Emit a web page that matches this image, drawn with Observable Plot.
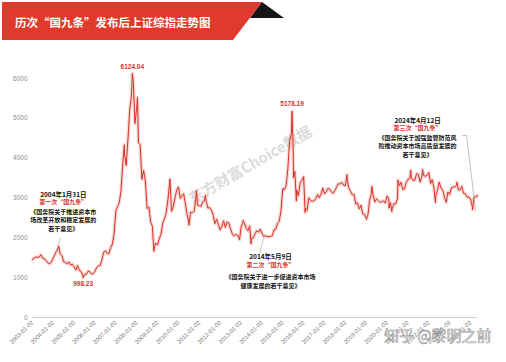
<!DOCTYPE html>
<html><head><meta charset="utf-8">
<script src="https://cdn.jsdelivr.net/npm/d3@7"></script>
<script src="https://cdn.jsdelivr.net/npm/@observablehq/plot@0.6"></script>
<style>
body{margin:0;background:#fff;}
#wrap{position:relative;width:506px;height:362px;overflow:hidden;font-family:"Noto Sans CJK SC","Noto Sans",sans-serif;background:#fff;}
#chart{position:absolute;left:0;top:0;}
#banner{position:absolute;left:2px;top:2px;width:260px;height:38px;background:#e13a2c;clip-path:polygon(0 0,260px 0,231px 38px,0 38px);z-index:2;}
#fold{position:absolute;left:250px;top:2px;width:34px;height:16px;background:#151515;clip-path:polygon(12px 0,34px 16px,0 16px);z-index:2;}
#title{position:absolute;left:15px;top:14px;color:#fff;font-weight:bold;font-size:11.5px;line-height:16px;z-index:3;white-space:nowrap;}
#zhihu{position:absolute;left:384px;top:324px;font-size:15px;color:rgba(255,255,255,0.55);-webkit-text-stroke:0.6px rgba(120,120,120,0.8);z-index:3;white-space:nowrap;}
</style></head>
<body><div id="wrap">
<div id="chart"></div>
<div id="banner"></div><div id="fold"></div>
<div id="title"></div>
<div id="zhihu"></div>
</div>
<script>
const titleText = "历次“国九条”发布后上证综指走势图";
const zhihuText = "知乎 @黎明之前";
const watermarkText = "东方财富Choice数据";

// Month-end closes of the SSE Composite
const years = [2003,2004,2005,2006,2007,2008,2009,2010,2011,2012,2013,2014,2015,2016,2017,2018,2019,2020,2021,2022,2023,2024];
const c2003 = [1500,1512,1510,1521,1576,1487,1476,1421,1367,1348,1397,1497];
const c2004 = [1590,1675,1742,1595,1555,1399,1386,1342,1396,1320,1340,1267];
const c2005 = [1191,1306,1181,1159,1060,1080,1083,1162,1155,1092,1099,1161];
const c2006 = [1258,1299,1298,1440,1641,1672,1612,1601,1752,1837,2099,2675];
const c2007 = [2786,2881,3183,3841,4109,3820,4471,5218,5552,5954,4871,5261];
const c2008 = [4383,4348,3472,3693,3433,2736,2775,2397,2293,1729,1871,1821];
const c2009 = [1990,2082,2373,2477,2632,2959,3412,2667,2779,2995,3195,3277];
const c2010 = [2989,3051,3109,2870,2592,2398,2637,2638,2655,2979,2820,2808];
const c2011 = [2790,2905,2928,2911,2743,2762,2701,2568,2359,2468,2333,2199];
const c2012 = [2292,2428,2262,2396,2373,2225,2103,2047,2086,2069,1980,2269];
const c2013 = [2385,2365,2237,2177,2300,1979,1993,2098,2174,2141,2220,2116];
const c2014 = [2033,2056,2033,2026,2039,2048,2201,2217,2364,2420,2683,3235];
const c2015 = [3210,3310,3748,4442,4612,4277,3664,3206,3053,3383,3445,3539];
const c2016 = [2738,2688,3004,2938,2917,2930,2979,3085,3005,3100,3250,3104];
const c2017 = [3159,3242,3223,3155,3117,3192,3273,3361,3349,3393,3317,3307];
const c2018 = [3481,3259,3169,3082,3095,2847,2876,2725,2821,2603,2588,2494];
const c2019 = [2585,2941,3091,3078,2899,2979,2932,2886,2905,2929,2872,3050];
const c2020 = [2977,2880,2750,2860,2852,2985,3310,3396,3218,3225,3392,3473];
const c2021 = [3483,3509,3441,3447,3615,3591,3397,3544,3568,3547,3564,3640];
const c2022 = [3361,3462,3252,3047,3186,3399,3253,3202,3024,2893,3151,3089];
const c2023 = [3255,3280,3273,3323,3205,3202,3291,3120,3110,3018,3030,2975];
const c2024 = [2789,3015,3041,3065];
const yearCloses = [c2003,c2004,c2005,c2006,c2007,c2008,c2009,c2010,c2011,c2012,c2013,c2014,c2015,c2016,c2017,c2018,c2019,c2020,c2021,c2022,c2023,c2024];

// intra-month highs and lows
const extremeDates = ["2003-01-02","2004-04-07","2005-06-06","2007-05-29","2007-10-16","2008-01-14","2008-10-28","2009-08-04","2010-07-02","2010-11-11","2011-04-18","2012-12-04","2013-02-06","2013-06-25","2015-06-12","2015-07-08","2015-08-26","2016-01-27","2018-01-29","2019-01-03","2019-04-08","2020-02-03","2020-03-23","2020-07-09","2021-02-18","2021-09-13","2022-04-26","2023-05-09","2024-02-05","2024-04-12"];
const extremeValues = [1450,1783,998.23,4335,6124.04,5522,1664,3478,2319,3186,3067,1949,2434,1849,5178.19,3507,2927,2638,3587,2464,3288,2746,2660,3450,3696,3715,2886,3395,2702,3019];

const peakLabels = ["998.23","6124.04","5178.19"];
const peakDates = ["2005-06-06","2007-10-16","2015-06-12"];
const peakValues = [998.23,6124.04,5178.19];

const yTicks = [0,1000,2000,3000,4000,5000,6000];
const xTickYears = [2003,2004,2005,2006,2007,2008,2009,2010,2011,2012,2013,2014,2015,2016,2017,2018,2019,2020,2021,2022,2023,2024];

const annHeads = ["2004年1月31日","2014年5月9日","2024年4月12日"];
const annOrders = ["第一次“国九条”","第二次“国九条”","第三次“国九条”"];
const annBodies = [
  ["《国务院关于推进资本市","场改革开放和稳定发展的","若干意见》"],
  ["《国务院关于进一步促进资本市场","健康发展的若干意见》"],
  ["《国务院关于加强监管防范风","险推动资本市场高质量发展的","若干意见》"]
];

document.getElementById("title").textContent = titleText;
document.getElementById("zhihu").textContent = zhihuText;

const series = [];
yearCloses.forEach((arr, i) => arr.forEach((v, m) => series.push({date: new Date(Date.UTC(years[i], m + 1, 0)), value: v})));
extremeDates.forEach((d, i) => series.push({date: new Date(d), value: extremeValues[i]}));
series.sort((a, b) => a.date - b.date);

const peaks = peakDates.map((d, i) => ({date: new Date(d), value: peakValues[i], label: peakLabels[i]}));
const xTicks = xTickYears.map(y => new Date(Date.UTC(y, 0, 2)));

const D = s => new Date(s);
const font = "'Noto Sans CJK SC', sans-serif";
const black = "#111";
const red = "#d8322a";

// annotation anchors (data coordinates)
const ann = [
  {d: D("2004-06-25"), v: 3088, i: 0, od: 8, body: 14, lh: 1.36},
  {d: D("2014-05-30"), v: 1531, i: 1, od: 9, body: 16, lh: 1.5},
  {d: D("2021-06-17"), v: 4946, i: 2, od: 8, body: 14, lh: 1.36}
];

const annMarks = ann.flatMap(a => [
  Plot.text([a], {x: "d", y: "v", text: () => annHeads[a.i], fontSize: 6.5, fontWeight: "bold", fill: black, fontFamily: font}),
  Plot.text([a], {x: "d", y: "v", text: () => annOrders[a.i], dy: a.od, fontSize: 6, fontWeight: "bold", fill: red, fontFamily: font}),
  Plot.text([a], {x: "d", y: "v", text: () => annBodies[a.i].join("\n"), dy: a.body, lineAnchor: "top", lineHeight: a.lh, fontSize: 6, fontWeight: "bold", fill: black, fontFamily: font})
]);

const leaders = [
  {x1: D("2004-05-10"), y1: 2000, x2: D("2004-02-25"), y2: 1700},
  {x1: D("2014-01-28"), y1: 1983, x2: D("2013-11-19"), y2: 1607}
];
const leader3 = [
  {d: D("2023-08-12"), v: 4569},
  {d: D("2023-10-23"), v: 4569},
  {d: D("2024-03-28"), v: 2686}
];

const chart = Plot.plot({
  width: 506, height: 362,
  marginLeft: 32, marginRight: 29, marginTop: 78, marginBottom: 45,
  style: {background: "transparent", overflow: "visible", fontFamily: "'Liberation Sans', Arial, sans-serif"},
  x: {type: "utc", domain: [D("2003-01-02"), D("2024-05-01")], label: null},
  y: {domain: [0, 6000], label: null},
  marks: [
    Plot.ruleY([0], {stroke: "#cfcfcf", strokeWidth: 1}),
    Plot.axisY({ticks: yTicks, tickFormat: d => String(d), tickSize: 0, tickPadding: 5, fontSize: 6.5, color: "#8c8c8c", label: null}),
    Plot.axisX({ticks: xTicks, tickFormat: d3.utcFormat("%Y-%m-%d"), tickRotate: -45, tickSize: 0, tickPadding: 4, fontSize: 6, color: "#7a7a7a", label: null}),
    Plot.text([{d: D("2013-06-14"), v: 3816}], {x: "d", y: "v", text: () => watermarkText, rotate: -30, fontSize: 15, fontWeight: "bold", fill: "#c4c4c4", fillOpacity: 0.6, fontFamily: font}),
    Plot.line(series, {x: "date", y: "value", stroke: "#f1a298", strokeWidth: 3.5, strokeOpacity: 0.45, curve: "linear"}),
    Plot.line(series, {x: "date", y: "value", stroke: red, strokeWidth: 1, curve: "linear"}),
    Plot.text(peaks.filter(p => p.value > 3000), {x: "date", y: "value", text: "label", dy: -7, fontSize: 6.5, fontWeight: "bold", fill: red}),
    Plot.text(peaks.filter(p => p.value < 3000), {x: "date", y: "value", text: "label", dy: 6, fontSize: 6.5, fontWeight: "bold", fill: red}),
    Plot.link(leaders, {x1: "x1", y1: "y1", x2: "x2", y2: "y2", stroke: "#9a9a9a", strokeWidth: 0.6}),
    Plot.line(leader3, {x: "d", y: "v", stroke: "#9a9a9a", strokeWidth: 0.6}),
    ...annMarks
  ]
});
document.getElementById("chart").appendChild(chart);
</script>
</body></html>
